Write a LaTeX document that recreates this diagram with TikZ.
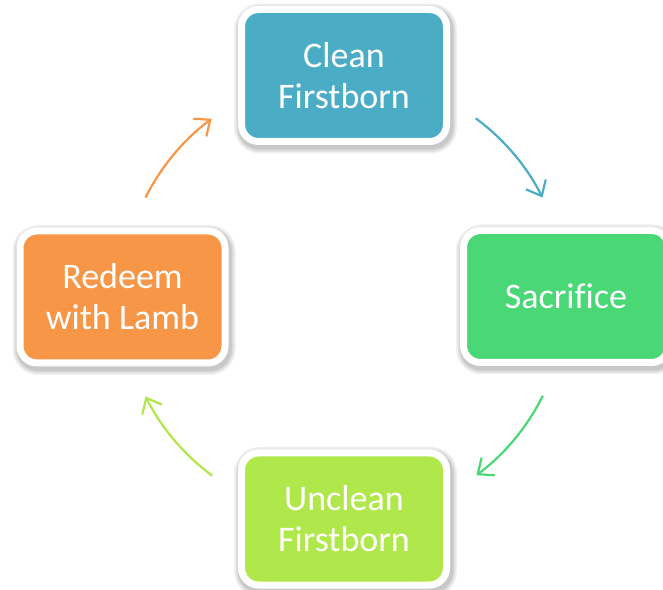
\documentclass[tikz,border=0pt]{standalone}
\usepackage{fontspec}
\setmainfont[Ligatures=NoCommon]{Carlito}
\usetikzlibrary{arrows.meta}
\definecolor{cblue}{HTML}{4BACC6}
\definecolor{cgreen}{HTML}{4AD876}
\definecolor{clime}{HTML}{B0E84C}
\definecolor{corange}{HTML}{F79646}
\begin{document}
\begin{tikzpicture}[x=1pt,y=1pt,
  shade layer/.style={preaction={draw=black, opacity=0.06, line width=#1,
    transform canvas={shift={(1.5pt,-3pt)}}}},
  box/.style={draw=white, line width=7pt, rounded corners=17pt,
    minimum width=205pt, minimum height=132pt, text=white, align=center,
    font=\fontsize{36}{41}\selectfont,
    shade layer=18pt, shade layer=15pt, shade layer=12pt, shade layer=10pt},
  cyc/.style={line width=2.2pt, -{Straight Barb[length=13pt,width=22pt]}}]
\useasboundingbox (0,0) rectangle (663,589);
\coordinate (c) at (344,292);
\node[box, fill=cblue] (clean) at (344,513.5) {Clean\\Firstborn};
\node[box, fill=cgreen] (sac) at (566,292.5) {Sacrifice};
\node[box, fill=clime] (unc) at (344,70) {Unclean\\Firstborn};
\node[box, fill=corange] (red) at (122.5,292) {Redeem\\with Lamb};
\draw[cyc, cblue] ([shift={(53.6:222)}]c) arc[start angle=53.6, end angle=26.6, radius=222];
\draw[cyc, cgreen] ([shift={(-26.4:222)}]c) arc[start angle=-26.4, end angle=-53.4, radius=222];
\draw[cyc, clime] ([shift={(-126.4:222)}]c) arc[start angle=-126.4, end angle=-153.4, radius=222];
\draw[cyc, corange] ([shift={(153.4:222)}]c) arc[start angle=153.4, end angle=126.6, radius=222];
\end{tikzpicture}
\end{document}
